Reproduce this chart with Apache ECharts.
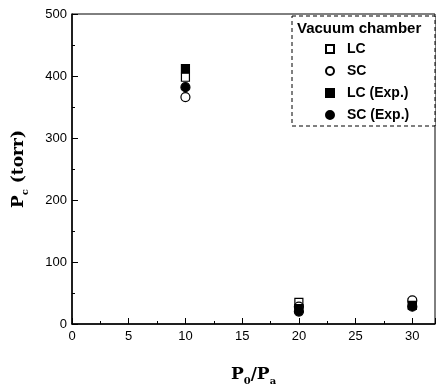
<!DOCTYPE html>
<html>
<head>
<meta charset="utf-8">
<script src="https://cdn.jsdelivr.net/npm/echarts@6.0.0/dist/echarts.min.js"></script>
<style>
  html, body { margin: 0; padding: 0; background: #fff; }
  #root { width: 438px; height: 391px; }
</style>
</head>
<body>
<div id="root"></div>
<script>
// pressure ratio P0/Pa
const ratios = [10, 20, 30]
// Pc (torr) for each case
const lcCalc = [398, 35, 35]
const scCalc = [366, 28, 38]
const lcExp = [412, 25, 30]
const scExp = [382, 20, 28]
const xTicks = [0, 5, 10, 15, 20, 25, 30]
const yTicks = [0, 100, 200, 300, 400, 500]

const pairs = vals => ratios.map((x, i) => [x, vals[i]])

const tickFont = { fontFamily: 'Liberation Sans', fontSize: 13, color: '#000' }

const nameRich = {
  a: { fontFamily: 'DejaVu Serif', fontWeight: 'bold', fontSize: 17, color: '#000', lineHeight: 22 },
  s: { fontFamily: 'DejaVu Serif', fontWeight: 'bold', fontSize: 10, color: '#000', verticalAlign: 'bottom', lineHeight: 14, padding: [9, 0, 0, 0] }
}

const makeSeries = (name, vals, symbol, filled) => ({
  name,
  type: 'scatter',
  data: pairs(vals),
  symbol,
  symbolSize: symbol === 'rect' ? 8 : 9,
  itemStyle: {
    color: filled ? '#000' : '#fff',
    borderColor: '#000',
    borderWidth: 1.2,
    opacity: 1
  },
  z: filled ? 3 : 2
})

const chart = echarts.init(document.getElementById('root'))
chart.setOption({
  animation: false,
  grid: { left: 72, right: 2, top: 14, bottom: 66, show: true, borderColor: '#000', borderWidth: 1 },
  xAxis: {
    type: 'value',
    min: 0,
    max: 32,
    interval: 5,
    name: '{a|P}{s|0}{a|/P}{s|a}',
    nameLocation: 'middle',
    nameGap: 40,
    nameTextStyle: { rich: nameRich },
    axisLine: { lineStyle: { color: '#000', width: 1.5 } },
    axisTick: { inside: true, length: 6, lineStyle: { color: '#000' } },
    minorTick: { show: true, splitNumber: 2, length: 3, lineStyle: { color: '#000' } },
    axisLabel: {
      ...tickFont,
      margin: 6,
      formatter: v => (xTicks.includes(v) ? String(v) : '')
    },
    splitLine: { show: false }
  },
  yAxis: {
    type: 'value',
    min: 0,
    max: 500,
    interval: 100,
    name: '{a|P}{s|c}{a| (torr)}',
    nameLocation: 'middle',
    nameRotate: 90,
    nameGap: 42,
    nameTextStyle: { rich: nameRich },
    axisLine: { lineStyle: { color: '#000', width: 1.5 } },
    axisTick: { inside: true, length: 6, lineStyle: { color: '#000' } },
    minorTick: { show: true, splitNumber: 2, length: 3, lineStyle: { color: '#000' } },
    axisLabel: {
      ...tickFont,
      margin: 5,
      formatter: v => (yTicks.includes(v) ? String(v) : '')
    },
    splitLine: { show: false }
  },
  graphic: [
    {
      type: 'rect',
      shape: { x: 292, y: 16, width: 143, height: 110 },
      style: { fill: '#fff', stroke: '#000', lineWidth: 1, lineDash: [4, 3] },
      z: 10
    },
    {
      type: 'text',
      left: 297,
      top: 21,
      style: { text: 'Vacuum chamber', font: 'bold 15px "Liberation Sans"', fill: '#000' },
      z: 11
    }
  ],
  legend: {
    orient: 'vertical',
    left: 320,
    top: 37,
    itemGap: 8,
    itemWidth: 8,
    itemHeight: 8,
    z: 12,
    textStyle: { fontFamily: 'Liberation Sans', fontWeight: 'bold', fontSize: 14, color: '#000', padding: [0, 0, 0, 8] },
    data: ['LC', 'SC', 'LC (Exp.)', 'SC (Exp.)']
  },
  series: [
    makeSeries('LC', lcCalc, 'rect', false),
    makeSeries('SC', scCalc, 'circle', false),
    makeSeries('LC (Exp.)', lcExp, 'rect', true),
    makeSeries('SC (Exp.)', scExp, 'circle', true)
  ]
})
</script>
</body>
</html>
